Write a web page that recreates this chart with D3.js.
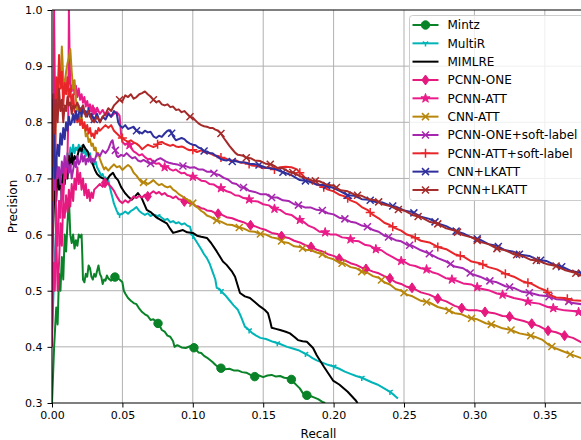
<!DOCTYPE html>
<html><head><meta charset="utf-8">
<script src="https://cdn.jsdelivr.net/npm/d3@7"></script>
<style>body{margin:0;background:#fff}svg{display:block}text{font-family:"DejaVu Sans",sans-serif}</style>
</head><body><svg id="c" width="581" height="440"></svg>
<script>
// ---------- data (recall, precision) ----------
const seriesNames = ["Mintz","MultiR","MIMLRE","PCNN-ONE","PCNN-ATT","CNN-ATT","PCNN-ONE+soft-label","PCNN-ATT+soft-label","CNN+LKATT","PCNN+LKATT"];
const xTicks = [0,0.05,0.10,0.15,0.20,0.25,0.30,0.35];
const yTicks = [0.3,0.4,0.5,0.6,0.7,0.8,0.9,1.0];

const mintz = [[0,0.30],[0.0015,0.40],[0.003,0.47],[0.004,0.44],[0.005,0.53],[0.006,0.50],[0.007,0.56],[0.008,0.52],[0.009,0.60],[0.010,0.57],[0.011,0.62],[0.012,0.665],[0.013,0.60],[0.014,0.585],[0.015,0.60],[0.016,0.575],[0.017,0.59],[0.018,0.58],[0.019,0.60],[0.020,0.595],[0.021,0.60],[0.0215,0.565],[0.022,0.52],[0.023,0.515],[0.024,0.53],[0.025,0.525],[0.026,0.545],[0.027,0.54],[0.028,0.525],[0.029,0.52],[0.030,0.53],[0.031,0.525],[0.032,0.535],[0.033,0.545],[0.034,0.53],[0.035,0.525],[0.036,0.512],[0.037,0.52],[0.038,0.518],[0.039,0.527],[0.040,0.522],[0.042,0.518],[0.044,0.525],[0.046,0.523],[0.048,0.52],[0.050,0.515],[0.051,0.50],[0.052,0.495],[0.054,0.487],[0.056,0.482],[0.058,0.478],[0.060,0.476],[0.062,0.468],[0.064,0.462],[0.066,0.458],[0.068,0.455],[0.070,0.448],[0.072,0.449],[0.074,0.445],[0.076,0.44],[0.078,0.43],[0.080,0.427],[0.082,0.42],[0.084,0.418],[0.086,0.41],[0.087,0.40],[0.089,0.403],[0.092,0.399],[0.095,0.398],[0.098,0.401],[0.100,0.40],[0.102,0.396],[0.104,0.39],[0.106,0.389],[0.108,0.384],[0.110,0.381],[0.112,0.377],[0.114,0.373],[0.116,0.368],[0.118,0.364],[0.120,0.362],[0.123,0.36],[0.126,0.361],[0.129,0.358],[0.132,0.358],[0.135,0.355],[0.138,0.354],[0.141,0.35],[0.144,0.347],[0.147,0.349],[0.150,0.346],[0.153,0.349],[0.156,0.35],[0.159,0.347],[0.162,0.348],[0.165,0.345],[0.168,0.344],[0.170,0.342],[0.172,0.336],[0.174,0.331],[0.176,0.326],[0.178,0.318],[0.180,0.314],[0.183,0.313],[0.186,0.31],[0.189,0.307],[0.192,0.302],[0.194,0.30]];

const multiR = [[0,0.42],[0.002,0.56],[0.003,0.62],[0.004,0.60],[0.005,0.66],[0.006,0.64],[0.007,0.70],[0.008,0.68],[0.009,0.72],[0.010,0.70],[0.011,0.745],[0.012,0.725],[0.013,0.755],[0.014,0.74],[0.015,0.76],[0.016,0.745],[0.017,0.755],[0.018,0.75],[0.019,0.76],[0.020,0.748],[0.021,0.758],[0.022,0.745],[0.023,0.752],[0.024,0.74],[0.025,0.75],[0.026,0.738],[0.027,0.745],[0.028,0.73],[0.029,0.733],[0.030,0.725],[0.031,0.73],[0.032,0.72],[0.033,0.715],[0.034,0.71],[0.035,0.705],[0.036,0.708],[0.037,0.70],[0.038,0.702],[0.039,0.696],[0.040,0.697],[0.041,0.685],[0.042,0.675],[0.043,0.665],[0.044,0.655],[0.045,0.649],[0.046,0.642],[0.047,0.638],[0.048,0.635],[0.050,0.637],[0.052,0.641],[0.054,0.637],[0.056,0.642],[0.058,0.645],[0.060,0.649],[0.062,0.642],[0.064,0.638],[0.066,0.635],[0.068,0.638],[0.070,0.633],[0.072,0.636],[0.074,0.632],[0.076,0.634],[0.078,0.63],[0.080,0.626],[0.082,0.628],[0.084,0.622],[0.086,0.624],[0.088,0.62],[0.090,0.622],[0.092,0.618],[0.094,0.62],[0.096,0.616],[0.098,0.614],[0.099,0.605],[0.100,0.598],[0.102,0.59],[0.104,0.582],[0.106,0.574],[0.108,0.565],[0.110,0.558],[0.112,0.548],[0.114,0.534],[0.116,0.52],[0.117,0.505],[0.119,0.503],[0.1205,0.498],[0.123,0.492],[0.126,0.483],[0.129,0.474],[0.132,0.466],[0.134,0.455],[0.137,0.436],[0.139,0.432],[0.142,0.425],[0.145,0.42],[0.148,0.416],[0.152,0.414],[0.157,0.409],[0.162,0.405],[0.167,0.40],[0.171,0.397],[0.175,0.394],[0.178,0.39],[0.182,0.385],[0.185,0.38],[0.188,0.376],[0.192,0.372],[0.196,0.368],[0.2,0.365],[0.204,0.361],[0.208,0.356],[0.212,0.352],[0.216,0.348],[0.22,0.345],[0.2235,0.341],[0.227,0.337],[0.231,0.333],[0.2365,0.325],[0.24,0.32],[0.243,0.314],[0.2457,0.308]];

const mimlre = [[0,0.55],[0.002,0.70],[0.003,0.66],[0.004,0.72],[0.005,0.68],[0.006,0.70],[0.007,0.67],[0.008,0.71],[0.009,0.69],[0.010,0.72],[0.011,0.70],[0.012,0.74],[0.013,0.72],[0.014,0.745],[0.015,0.725],[0.016,0.74],[0.0175,0.733],[0.019,0.75],[0.020,0.754],[0.021,0.748],[0.0222,0.76],[0.024,0.752],[0.0256,0.747],[0.027,0.733],[0.029,0.725],[0.0305,0.715],[0.032,0.708],[0.034,0.703],[0.036,0.70],[0.0388,0.697],[0.041,0.705],[0.0433,0.71],[0.045,0.702],[0.0469,0.697],[0.049,0.685],[0.0518,0.674],[0.054,0.668],[0.0566,0.662],[0.059,0.668],[0.061,0.674],[0.0637,0.665],[0.0673,0.644],[0.070,0.64],[0.0744,0.63],[0.078,0.625],[0.0815,0.62],[0.084,0.61],[0.086,0.603],[0.090,0.606],[0.093,0.608],[0.096,0.604],[0.100,0.603],[0.103,0.598],[0.106,0.596],[0.110,0.594],[0.113,0.585],[0.117,0.57],[0.1214,0.552],[0.124,0.546],[0.1276,0.535],[0.130,0.525],[0.1335,0.496],[0.137,0.49],[0.1406,0.487],[0.144,0.48],[0.1477,0.472],[0.151,0.466],[0.1534,0.46],[0.155,0.445],[0.156,0.434],[0.159,0.432],[0.162,0.43],[0.166,0.427],[0.169,0.424],[0.172,0.418],[0.1747,0.412],[0.178,0.41],[0.181,0.409],[0.1854,0.398],[0.188,0.385],[0.190,0.377],[0.193,0.365],[0.1996,0.34],[0.204,0.333],[0.210,0.32],[0.2156,0.305],[0.217,0.30]];

const pcnnOne = [[0,0.40],[0.0015,1.0],[0.003,0.60],[0.004,0.50],[0.005,0.55],[0.006,0.62],[0.007,0.58],[0.008,0.66],[0.009,0.63],[0.010,0.67],[0.011,0.64],[0.012,0.68],[0.013,0.65],[0.014,0.69],[0.015,0.66],[0.016,0.70],[0.017,0.68],[0.018,0.72],[0.019,0.69],[0.020,0.71],[0.021,0.68],[0.022,0.70],[0.023,0.67],[0.024,0.69],[0.025,0.665],[0.026,0.68],[0.027,0.66],[0.028,0.675],[0.029,0.665],[0.030,0.68],[0.032,0.685],[0.034,0.69],[0.036,0.685],[0.038,0.694],[0.040,0.69],[0.042,0.685],[0.044,0.678],[0.046,0.668],[0.048,0.66],[0.050,0.656],[0.052,0.661],[0.054,0.657],[0.056,0.662],[0.058,0.668],[0.060,0.665],[0.062,0.669],[0.064,0.666],[0.066,0.671],[0.068,0.668],[0.070,0.673],[0.072,0.677],[0.074,0.673],[0.076,0.676],[0.078,0.671],[0.080,0.674],[0.082,0.669],[0.084,0.668],[0.086,0.665],[0.088,0.668],[0.090,0.663],[0.092,0.662],[0.094,0.659],[0.096,0.658],[0.098,0.655],[0.100,0.655],[0.102,0.651],[0.104,0.65],[0.106,0.647],[0.108,0.646],[0.110,0.643],[0.113,0.642],[0.116,0.638],[0.120,0.636],[0.124,0.631],[0.128,0.629],[0.132,0.625],[0.136,0.622],[0.140,0.617],[0.144,0.615],[0.148,0.611],[0.152,0.608],[0.156,0.603],[0.160,0.601],[0.164,0.596],[0.168,0.594],[0.172,0.589],[0.176,0.586],[0.180,0.581],[0.184,0.578],[0.188,0.573],[0.192,0.57],[0.196,0.565],[0.200,0.562],[0.204,0.557],[0.208,0.554],[0.212,0.549],[0.216,0.546],[0.220,0.541],[0.224,0.538],[0.228,0.534],[0.232,0.531],[0.236,0.526],[0.240,0.522],[0.244,0.515],[0.248,0.512],[0.252,0.507],[0.256,0.505],[0.262,0.497],[0.268,0.493],[0.274,0.486],[0.280,0.481],[0.286,0.473],[0.291,0.469],[0.296,0.465],[0.302,0.465],[0.308,0.462],[0.314,0.46],[0.320,0.455],[0.325,0.454],[0.330,0.449],[0.335,0.446],[0.341,0.441],[0.346,0.437],[0.352,0.429],[0.358,0.426],[0.364,0.42],[0.370,0.416],[0.376,0.408]];

const pcnnAtt = [[0,0.42],[0.001,0.55],[0.002,0.50],[0.003,0.62],[0.004,0.58],[0.005,0.66],[0.006,0.63],[0.007,0.69],[0.008,0.66],[0.009,0.72],[0.010,0.70],[0.011,0.74],[0.0115,0.80],[0.012,1.0],[0.0125,0.92],[0.013,0.87],[0.014,0.855],[0.015,0.87],[0.016,0.85],[0.017,0.865],[0.018,0.845],[0.019,0.86],[0.020,0.84],[0.021,0.85],[0.022,0.835],[0.023,0.845],[0.024,0.828],[0.025,0.838],[0.026,0.825],[0.027,0.832],[0.028,0.82],[0.029,0.83],[0.030,0.818],[0.032,0.826],[0.034,0.815],[0.036,0.822],[0.038,0.812],[0.040,0.818],[0.042,0.81],[0.044,0.815],[0.046,0.818],[0.048,0.812],[0.049,0.78],[0.050,0.765],[0.052,0.76],[0.054,0.764],[0.056,0.755],[0.058,0.748],[0.060,0.745],[0.062,0.741],[0.064,0.743],[0.066,0.738],[0.068,0.734],[0.070,0.735],[0.072,0.729],[0.074,0.726],[0.076,0.727],[0.078,0.722],[0.080,0.72],[0.082,0.721],[0.084,0.716],[0.086,0.714],[0.088,0.716],[0.090,0.712],[0.092,0.709],[0.094,0.71],[0.096,0.706],[0.098,0.705],[0.100,0.703],[0.103,0.701],[0.106,0.696],[0.109,0.695],[0.112,0.69],[0.115,0.689],[0.118,0.684],[0.121,0.682],[0.124,0.677],[0.127,0.675],[0.130,0.67],[0.133,0.669],[0.136,0.665],[0.139,0.664],[0.142,0.66],[0.146,0.659],[0.150,0.654],[0.154,0.652],[0.158,0.646],[0.162,0.644],[0.166,0.637],[0.170,0.635],[0.174,0.628],[0.178,0.624],[0.182,0.616],[0.186,0.612],[0.190,0.605],[0.194,0.604],[0.198,0.6],[0.202,0.6],[0.206,0.595],[0.210,0.594],[0.214,0.589],[0.218,0.588],[0.222,0.582],[0.226,0.58],[0.230,0.574],[0.234,0.572],[0.238,0.565],[0.242,0.56],[0.246,0.554],[0.250,0.552],[0.254,0.546],[0.258,0.544],[0.262,0.54],[0.266,0.538],[0.270,0.533],[0.274,0.53],[0.280,0.522],[0.286,0.519],[0.292,0.513],[0.298,0.511],[0.304,0.504],[0.310,0.501],[0.316,0.495],[0.322,0.492],[0.328,0.487],[0.334,0.484],[0.340,0.479],[0.346,0.477],[0.352,0.471],[0.358,0.468],[0.364,0.465],[0.370,0.464],[0.376,0.461]];

const cnnAtt = [[0,0.70],[0.001,0.78],[0.002,0.74],[0.003,0.85],[0.004,0.82],[0.005,0.90],[0.006,0.87],[0.007,0.935],[0.008,0.88],[0.009,0.86],[0.010,0.89],[0.011,0.905],[0.012,0.915],[0.013,0.93],[0.014,0.89],[0.015,0.86],[0.016,0.875],[0.017,0.84],[0.018,0.82],[0.019,0.83],[0.020,0.80],[0.021,0.81],[0.022,0.79],[0.023,0.795],[0.024,0.775],[0.025,0.78],[0.026,0.765],[0.027,0.77],[0.028,0.758],[0.029,0.762],[0.030,0.75],[0.031,0.755],[0.032,0.74],[0.033,0.745],[0.034,0.735],[0.035,0.728],[0.036,0.722],[0.037,0.716],[0.038,0.72],[0.040,0.714],[0.042,0.72],[0.044,0.725],[0.046,0.72],[0.048,0.722],[0.050,0.715],[0.052,0.72],[0.054,0.724],[0.056,0.72],[0.058,0.71],[0.060,0.705],[0.062,0.698],[0.064,0.692],[0.066,0.694],[0.068,0.69],[0.070,0.693],[0.072,0.697],[0.074,0.692],[0.076,0.688],[0.078,0.69],[0.080,0.686],[0.082,0.684],[0.084,0.686],[0.086,0.68],[0.088,0.677],[0.090,0.672],[0.092,0.669],[0.094,0.665],[0.096,0.663],[0.098,0.658],[0.100,0.656],[0.102,0.65],[0.104,0.647],[0.106,0.642],[0.108,0.639],[0.110,0.634],[0.113,0.631],[0.116,0.626],[0.120,0.623],[0.124,0.618],[0.128,0.617],[0.132,0.613],[0.136,0.611],[0.140,0.606],[0.144,0.605],[0.148,0.601],[0.152,0.6],[0.156,0.595],[0.160,0.593],[0.164,0.587],[0.168,0.585],[0.172,0.579],[0.176,0.578],[0.180,0.573],[0.184,0.572],[0.188,0.568],[0.192,0.565],[0.196,0.559],[0.200,0.556],[0.204,0.55],[0.208,0.548],[0.212,0.542],[0.216,0.54],[0.220,0.534],[0.224,0.532],[0.228,0.526],[0.232,0.523],[0.236,0.515],[0.240,0.511],[0.244,0.503],[0.248,0.5],[0.252,0.493],[0.256,0.49],[0.262,0.482],[0.268,0.479],[0.274,0.471],[0.280,0.467],[0.286,0.46],[0.291,0.458],[0.296,0.452],[0.302,0.449],[0.308,0.442],[0.314,0.439],[0.320,0.433],[0.326,0.43],[0.332,0.424],[0.338,0.421],[0.344,0.417],[0.348,0.413],[0.352,0.405],[0.356,0.399],[0.362,0.393],[0.368,0.387],[0.376,0.38]];

const pcnnOneSoft = [[0,0.62],[0.001,0.72],[0.002,0.68],[0.003,0.74],[0.004,0.70],[0.005,0.72],[0.006,0.69],[0.007,0.73],[0.008,0.71],[0.009,0.74],[0.010,0.72],[0.011,0.73],[0.012,0.71],[0.013,0.725],[0.014,0.70],[0.015,0.715],[0.016,0.73],[0.017,0.72],[0.018,0.74],[0.019,0.725],[0.020,0.73],[0.021,0.745],[0.022,0.73],[0.023,0.74],[0.024,0.725],[0.025,0.735],[0.026,0.73],[0.027,0.74],[0.028,0.728],[0.029,0.735],[0.030,0.73],[0.032,0.745],[0.034,0.74],[0.036,0.75],[0.038,0.745],[0.040,0.752],[0.042,0.765],[0.043,0.768],[0.044,0.755],[0.045,0.75],[0.046,0.74],[0.047,0.738],[0.049,0.742],[0.051,0.74],[0.053,0.745],[0.055,0.74],[0.057,0.736],[0.059,0.738],[0.061,0.732],[0.063,0.73],[0.065,0.733],[0.067,0.73],[0.069,0.727],[0.071,0.726],[0.073,0.73],[0.075,0.734],[0.077,0.736],[0.079,0.733],[0.081,0.73],[0.083,0.728],[0.086,0.726],[0.089,0.725],[0.092,0.722],[0.095,0.722],[0.098,0.719],[0.101,0.72],[0.104,0.716],[0.107,0.716],[0.110,0.712],[0.113,0.712],[0.116,0.708],[0.119,0.706],[0.122,0.701],[0.125,0.698],[0.128,0.692],[0.131,0.69],[0.134,0.684],[0.137,0.684],[0.140,0.678],[0.144,0.676],[0.148,0.672],[0.152,0.672],[0.156,0.666],[0.160,0.666],[0.164,0.661],[0.168,0.66],[0.172,0.654],[0.176,0.652],[0.180,0.648],[0.184,0.648],[0.188,0.644],[0.192,0.643],[0.196,0.638],[0.200,0.636],[0.204,0.63],[0.208,0.628],[0.212,0.623],[0.216,0.621],[0.220,0.616],[0.224,0.614],[0.228,0.608],[0.232,0.605],[0.236,0.598],[0.240,0.595],[0.244,0.59],[0.248,0.588],[0.252,0.582],[0.256,0.58],[0.262,0.572],[0.268,0.566],[0.274,0.558],[0.280,0.552],[0.286,0.543],[0.292,0.54],[0.298,0.53],[0.304,0.525],[0.310,0.518],[0.316,0.515],[0.322,0.508],[0.328,0.505],[0.334,0.498],[0.340,0.496],[0.346,0.492],[0.352,0.49],[0.358,0.485],[0.364,0.484],[0.370,0.478],[0.376,0.476]];

const pcnnAttSoft = [[0,0.66],[0.001,0.80],[0.002,0.72],[0.003,0.88],[0.004,0.84],[0.005,0.92],[0.006,0.86],[0.007,0.89],[0.008,0.83],[0.009,0.87],[0.010,0.85],[0.011,0.88],[0.012,0.845],[0.013,0.86],[0.014,0.83],[0.015,0.85],[0.016,0.82],[0.017,0.815],[0.018,0.80],[0.019,0.81],[0.020,0.795],[0.021,0.805],[0.022,0.79],[0.023,0.80],[0.024,0.785],[0.025,0.795],[0.026,0.78],[0.027,0.79],[0.028,0.775],[0.029,0.78],[0.030,0.772],[0.031,0.785],[0.032,0.78],[0.033,0.79],[0.034,0.785],[0.036,0.79],[0.038,0.795],[0.040,0.79],[0.042,0.795],[0.044,0.785],[0.046,0.78],[0.048,0.775],[0.050,0.772],[0.052,0.768],[0.054,0.765],[0.056,0.768],[0.058,0.764],[0.060,0.762],[0.062,0.758],[0.064,0.752],[0.066,0.756],[0.068,0.76],[0.070,0.758],[0.072,0.756],[0.074,0.758],[0.076,0.764],[0.078,0.765],[0.080,0.762],[0.082,0.76],[0.084,0.758],[0.086,0.76],[0.088,0.757],[0.090,0.756],[0.092,0.757],[0.094,0.755],[0.096,0.752],[0.098,0.75],[0.100,0.751],[0.103,0.747],[0.106,0.75],[0.109,0.746],[0.112,0.745],[0.115,0.741],[0.118,0.74],[0.121,0.736],[0.124,0.735],[0.127,0.731],[0.130,0.733],[0.134,0.728],[0.138,0.728],[0.142,0.723],[0.146,0.722],[0.150,0.718],[0.154,0.72],[0.158,0.716],[0.162,0.72],[0.166,0.721],[0.170,0.72],[0.174,0.716],[0.176,0.71],[0.178,0.706],[0.180,0.70],[0.184,0.696],[0.188,0.689],[0.192,0.686],[0.196,0.68],[0.200,0.677],[0.204,0.671],[0.208,0.668],[0.212,0.661],[0.216,0.657],[0.220,0.649],[0.224,0.644],[0.228,0.635],[0.232,0.629],[0.236,0.621],[0.240,0.617],[0.244,0.611],[0.248,0.607],[0.252,0.6],[0.256,0.597],[0.262,0.589],[0.268,0.586],[0.274,0.578],[0.280,0.574],[0.286,0.565],[0.292,0.561],[0.298,0.552],[0.304,0.549],[0.310,0.542],[0.316,0.538],[0.322,0.53],[0.328,0.525],[0.334,0.517],[0.340,0.513],[0.346,0.505],[0.351,0.50],[0.354,0.492],[0.358,0.488],[0.364,0.487],[0.370,0.483],[0.376,0.482]];

const cnnLkatt = [[0,0.70],[0.001,0.84],[0.002,0.70],[0.003,0.73],[0.004,0.76],[0.005,0.74],[0.006,0.78],[0.007,0.76],[0.008,0.79],[0.009,0.77],[0.010,0.80],[0.011,0.785],[0.012,0.81],[0.013,0.795],[0.014,0.80],[0.015,0.815],[0.016,0.80],[0.017,0.82],[0.018,0.805],[0.019,0.815],[0.020,0.825],[0.021,0.81],[0.022,0.83],[0.023,0.815],[0.024,0.82],[0.025,0.81],[0.026,0.825],[0.027,0.81],[0.028,0.815],[0.030,0.805],[0.032,0.815],[0.034,0.80],[0.036,0.81],[0.038,0.805],[0.040,0.815],[0.042,0.81],[0.044,0.82],[0.046,0.815],[0.047,0.80],[0.048,0.795],[0.050,0.79],[0.052,0.795],[0.054,0.788],[0.056,0.79],[0.058,0.792],[0.060,0.785],[0.062,0.783],[0.064,0.78],[0.066,0.785],[0.068,0.782],[0.070,0.783],[0.072,0.775],[0.074,0.772],[0.076,0.776],[0.078,0.774],[0.080,0.78],[0.082,0.785],[0.084,0.786],[0.086,0.775],[0.088,0.768],[0.090,0.77],[0.092,0.772],[0.094,0.77],[0.096,0.765],[0.098,0.762],[0.100,0.76],[0.102,0.759],[0.104,0.755],[0.106,0.753],[0.108,0.749],[0.110,0.748],[0.112,0.745],[0.114,0.745],[0.116,0.741],[0.118,0.738],[0.120,0.734],[0.122,0.733],[0.124,0.732],[0.126,0.734],[0.128,0.73],[0.130,0.731],[0.133,0.729],[0.136,0.729],[0.140,0.726],[0.146,0.725],[0.152,0.719],[0.158,0.717],[0.164,0.711],[0.170,0.706],[0.176,0.697],[0.182,0.695],[0.188,0.689],[0.194,0.688],[0.200,0.683],[0.205,0.677],[0.210,0.67],[0.215,0.669],[0.220,0.663],[0.225,0.662],[0.230,0.658],[0.235,0.657],[0.240,0.652],[0.245,0.649],[0.250,0.643],[0.256,0.64],[0.262,0.632],[0.268,0.628],[0.274,0.62],[0.280,0.615],[0.286,0.607],[0.292,0.602],[0.298,0.595],[0.304,0.591],[0.310,0.583],[0.316,0.58],[0.322,0.572],[0.327,0.57],[0.333,0.564],[0.339,0.562],[0.345,0.555],[0.351,0.553],[0.357,0.546],[0.363,0.542],[0.369,0.535],[0.375,0.532],[0.380,0.527]];

const pcnnLkatt = [[0,0.72],[0.001,0.85],[0.002,0.78],[0.003,0.84],[0.004,0.80],[0.005,0.86],[0.006,0.82],[0.007,0.84],[0.008,0.80],[0.009,0.83],[0.010,0.82],[0.011,0.845],[0.012,0.83],[0.013,0.835],[0.014,0.815],[0.015,0.83],[0.016,0.825],[0.018,0.835],[0.020,0.82],[0.022,0.83],[0.024,0.81],[0.026,0.82],[0.028,0.805],[0.030,0.80],[0.032,0.81],[0.034,0.80],[0.036,0.81],[0.038,0.815],[0.040,0.825],[0.042,0.82],[0.044,0.83],[0.046,0.835],[0.048,0.84],[0.050,0.838],[0.052,0.848],[0.054,0.845],[0.056,0.85],[0.058,0.842],[0.060,0.845],[0.062,0.85],[0.064,0.852],[0.066,0.855],[0.068,0.85],[0.070,0.846],[0.072,0.84],[0.074,0.836],[0.076,0.838],[0.078,0.832],[0.080,0.83],[0.082,0.832],[0.084,0.827],[0.086,0.828],[0.088,0.822],[0.090,0.823],[0.092,0.818],[0.094,0.82],[0.096,0.815],[0.098,0.81],[0.100,0.808],[0.102,0.803],[0.104,0.798],[0.106,0.795],[0.108,0.793],[0.110,0.792],[0.112,0.79],[0.114,0.79],[0.116,0.787],[0.118,0.785],[0.120,0.78],[0.122,0.772],[0.124,0.765],[0.126,0.758],[0.128,0.752],[0.130,0.746],[0.132,0.742],[0.135,0.741],[0.138,0.737],[0.141,0.736],[0.144,0.732],[0.148,0.731],[0.152,0.726],[0.156,0.725],[0.160,0.719],[0.164,0.718],[0.168,0.712],[0.172,0.71],[0.176,0.704],[0.180,0.701],[0.185,0.696],[0.190,0.695],[0.195,0.689],[0.200,0.687],[0.205,0.679],[0.210,0.677],[0.215,0.671],[0.220,0.669],[0.225,0.663],[0.230,0.661],[0.235,0.654],[0.240,0.651],[0.245,0.645],[0.250,0.643],[0.256,0.635],[0.262,0.631],[0.268,0.623],[0.274,0.619],[0.280,0.611],[0.286,0.607],[0.292,0.599],[0.298,0.595],[0.304,0.587],[0.310,0.583],[0.316,0.575],[0.322,0.572],[0.328,0.565],[0.334,0.562],[0.340,0.555],[0.346,0.553],[0.352,0.547],[0.358,0.544],[0.364,0.537],[0.370,0.533],[0.376,0.527]];

// marker recall positions
const mintzMarks = [0.0447,0.0753,0.1008,0.12,0.144,0.17,0.181];
const multiRMarks = [0.048,0.075,0.1,0.12,0.14,0.16,0.18,0.2,0.22,0.24];
const pcnnOneMarks = [0.0376,0.068,0.094,0.118,0.141,0.163,0.184,0.204,0.223,0.24,0.2557,0.274,0.291,0.3075,0.325,0.3407,0.3523,0.364];
const pcnnAttMarks = [0.03,0.055,0.08,0.1,0.12,0.14,0.158,0.176,0.194,0.212,0.23,0.248,0.266,0.284,0.302,0.32,0.338,0.356,0.374];
const cnnAttMarks = [0.065,0.1,0.117,0.133,0.148,0.163,0.178,0.192,0.206,0.22,0.234,0.25,0.266,0.282,0.298,0.312,0.326,0.34,0.355,0.368];
const pcnnOneSoftMarks = [0.045,0.07,0.093,0.115,0.136,0.156,0.175,0.192,0.208,0.224,0.239,0.254,0.268,0.283,0.297,0.311,0.325,0.339,0.353,0.367];
const pcnnAttSoftMarks = [0.05,0.075,0.1,0.12,0.14,0.158,0.176,0.193,0.21,0.226,0.242,0.258,0.274,0.29,0.306,0.322,0.338,0.352,0.366];
const cnnLkattMarks = [0.03,0.06,0.085,0.108,0.128,0.147,0.164,0.18,0.195,0.21,0.226,0.242,0.257,0.272,0.287,0.302,0.317,0.332,0.347,0.362,0.376];
const pcnnLkattMarks = [0.048,0.072,0.098,0.12,0.138,0.155,0.171,0.187,0.202,0.217,0.232,0.246,0.26,0.274,0.288,0.302,0.316,0.33,0.344,0.358,0.372];

const colors = ["#0a8228","#00b4b8","#000000","#e6197e","#ea1c8a","#b8860b","#a626b0","#e8262a","#2f309e","#a52a2a"];
const shapes = ["circle","tri","none","diamond","star","x","x","plus","x","x"];
const allData = [mintz,multiR,mimlre,pcnnOne,pcnnAtt,cnnAtt,pcnnOneSoft,pcnnAttSoft,cnnLkatt,pcnnLkatt];
const allMarks = [mintzMarks,multiRMarks,[],pcnnOneMarks,pcnnAttMarks,cnnAttMarks,pcnnOneSoftMarks,pcnnAttSoftMarks,cnnLkattMarks,pcnnLkattMarks];

// ---------- drawing ----------
const svg = d3.select("#c");
const L = 52, T = 10, B = 403, R = 581;
const x = d3.scaleLinear().domain([0, 0.3757]).range([L, R]);
const y = d3.scaleLinear().domain([0.3, 1.0]).range([B, T]);

svg.append("defs").append("clipPath").attr("id","clip")
  .append("rect").attr("x",L).attr("y",T).attr("width",R-L+10).attr("height",B-T);

// grid
svg.append("g").selectAll("line").data(xTicks.slice(1)).join("line")
  .attr("x1",d=>x(d)).attr("x2",d=>x(d)).attr("y1",T).attr("y2",B)
  .attr("stroke","#b0b0b0").attr("stroke-width",1);
svg.append("g").selectAll("line").data(yTicks.slice(1,-1)).join("line")
  .attr("x1",L).attr("x2",R).attr("y1",d=>y(d)).attr("y2",d=>y(d))
  .attr("stroke","#b0b0b0").attr("stroke-width",1);

function symbolPath(shape, s){
  switch(shape){
    case "circle": return d3.symbol(d3.symbolCircle, 56)();
    case "diamond": return `M0,${-5*s}L${3.6*s},0L0,${5*s}L${-3.6*s},0Z`;
    case "star": return d3.symbol(d3.symbolStar, 26)();
    case "x": return `M-3.5,-3.5L3.5,3.5M-3.5,3.5L3.5,-3.5`;
    case "plus": return `M-4.5,0L4.5,0M0,-4.5L0,4.5`;
    case "tri": return `M0,0L0,3.2M0,0L-2.8,-1.6M0,0L2.8,-1.6`;
  }
  return null;
}
function drawMarker(g, shape, color, cx, cy){
  const p = symbolPath(shape, 1);
  if(!p) return;
  const filled = (shape==="circle"||shape==="diamond"||shape==="star");
  g.append("path").attr("d",p).attr("transform",`translate(${cx},${cy})`)
    .attr("fill", filled?color:"none").attr("stroke",color)
    .attr("stroke-width", filled?1:1.5);
}
const bis = d3.bisector(d=>d[0]).left;
function interp(data, r){
  let i = bis(data, r);
  if(i<=0) return data[0][1];
  if(i>=data.length) return data[data.length-1][1];
  const a=data[i-1], b=data[i];
  return a[1] + (b[1]-a[1])*(r-a[0])/(b[0]-a[0]);
}

const plot = svg.append("g").attr("clip-path","url(#clip)");
const line = d3.line().x(d=>x(d[0])).y(d=>y(d[1]));
allData.forEach((data,k)=>{
  const g = plot.append("g");
  g.append("path").datum(data).attr("d",line).attr("fill","none")
    .attr("stroke",colors[k]).attr("stroke-width",2).attr("stroke-linejoin","round");
  allMarks[k].forEach(r=>drawMarker(g, shapes[k], colors[k], x(r), y(interp(data,r))));
});

// spines
svg.append("line").attr("x1",L).attr("x2",L).attr("y1",T).attr("y2",B).attr("stroke","#000").attr("stroke-width",1.1);
svg.append("line").attr("x1",L).attr("x2",R).attr("y1",B).attr("y2",B).attr("stroke","#000").attr("stroke-width",1.1);
svg.append("line").attr("x1",L).attr("x2",R).attr("y1",T).attr("y2",T).attr("stroke","#000").attr("stroke-width",1.1);

// axes
const xa = svg.append("g").attr("transform",`translate(0,${B})`)
  .call(d3.axisBottom(x).tickValues(xTicks).tickFormat(d3.format(".2f")).tickSize(4.5).tickPadding(3.5));
const ya = svg.append("g").attr("transform",`translate(${L},0)`)
  .call(d3.axisLeft(y).tickValues(yTicks).tickFormat(d3.format(".1f")).tickSize(4.5).tickPadding(5));
[xa,ya].forEach(a=>{
  a.select(".domain").remove();
  a.selectAll("text").attr("font-size","11px").attr("fill","#000").attr("font-family","DejaVu Sans");
  a.selectAll("line").attr("stroke","#000");
});
svg.append("text").attr("x",(L+545)/2+20).attr("y",438).attr("text-anchor","middle")
  .attr("font-size","12px").text("Recall");
svg.append("text").attr("transform",`translate(17,${(T+B)/2}) rotate(-90)`).attr("text-anchor","middle")
  .attr("font-size","12px").text("Precision");

// legend
const lg = svg.append("g");
lg.append("rect").attr("x",409.5).attr("y",15.5).attr("width",200).attr("height",185).attr("rx",3)
  .attr("fill","#fff").attr("fill-opacity",0.8).attr("stroke","#cccccc").attr("stroke-width",1);
seriesNames.forEach((name,k)=>{
  const yy = 25 + k*18.33;
  lg.append("line").attr("x1",412.5).attr("x2",438.5).attr("y1",yy).attr("y2",yy)
    .attr("stroke",colors[k]).attr("stroke-width",2);
  drawMarker(lg, shapes[k], colors[k], 425.5, yy);
  lg.append("text").attr("x",447.5).attr("y",yy).attr("dy","0.36em").attr("font-size","12px").text(name);
});
</script></body></html>
